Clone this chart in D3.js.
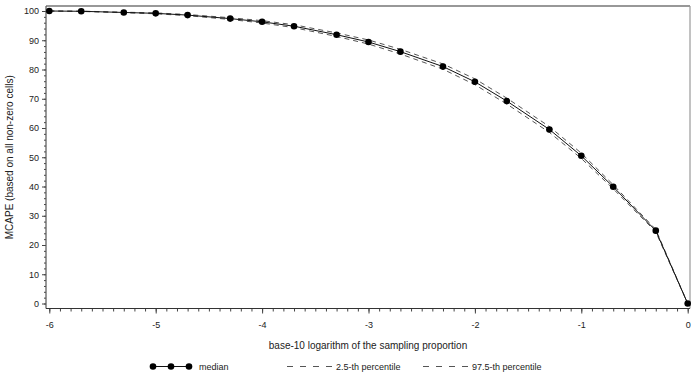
<!DOCTYPE html>
<html lang="en">
<head>
    <meta charset="UTF-8">
    <title>MCAPE vs sampling proportion</title>
    <script src="https://d3js.org/d3.v7.min.js"></script>
    <style>
        body {
            margin: 0;
            background: #fff;
            font-family: "Liberation Sans", Arial, sans-serif;
        }
        text { fill: #222; }
    </style>
</head>
<body>
    <div id="chart"></div>
    <script>
        // log10 of sampling proportion
        const logProp = [-6, -5.7, -5.3, -5, -4.7, -4.3, -4, -3.7, -3.3, -3, -2.7, -2.3, -2, -1.7, -1.3, -1, -0.7, -0.3, 0];
        const median = [100, 99.9, 99.5, 99.2, 98.6, 97.4, 96.3, 94.8, 91.9, 89.4, 86.1, 81.0, 75.8, 69.2, 59.5, 50.5, 39.9, 24.9, 0];
        const p025 = [100, 99.85, 99.4, 99.05, 98.4, 97.1, 95.9, 94.3, 91.3, 88.7, 85.3, 80.1, 74.8, 68.2, 58.5, 49.6, 39.2, 24.5, 0];
        const p975 = [100, 99.95, 99.6, 99.35, 98.8, 97.7, 96.7, 95.3, 92.5, 90.1, 86.9, 81.9, 76.8, 70.2, 60.5, 51.4, 40.6, 25.3, 0];

        const xTicks = [-6, -5, -4, -3, -2, -1, 0];
        const yTicks = [0, 10, 20, 30, 40, 50, 60, 70, 80, 90, 100];
        const legendLabels = ["median", "2.5-th percentile", "97.5-th percentile"];

        const width = 697, height = 377;
        const frame = {left: 46, right: 690, top: 6, bottom: 308.5};

        const svg = d3.select("#chart")
            .append("svg")
            .attr("width", width)
            .attr("height", height);

        const x = d3.scaleLinear().domain([-6, 0]).range([49.3, 687.7]);
        const y = d3.scaleLinear().domain([0, 100]).range([303.5, 11]);

        // frame: top and right border
        svg.append("path")
            .attr("d", `M${frame.left},${frame.top}H${frame.right}`)
            .attr("stroke", "#333").attr("stroke-width", 1.2).attr("fill", "none");
        svg.append("path")
            .attr("d", `M${frame.right},${frame.top}V${frame.bottom}`)
            .attr("stroke", "#999").attr("stroke-width", 1.2).attr("fill", "none");

        // x axis - minor ticks
        const xMinor = d3.range(-60, 1).map(d => d / 10);
        svg.append("g")
            .attr("transform", `translate(0,${frame.bottom})`)
            .call(d3.axisBottom(x).tickValues(xMinor).tickSize(3).tickFormat(""))
            .call(g => g.select(".domain").remove())
            .selectAll("line").attr("stroke", "#444");

        // x axis - major ticks
        const xAxis = svg.append("g")
            .attr("transform", `translate(0,${frame.bottom})`)
            .call(d3.axisBottom(x).tickValues(xTicks).tickSize(5).tickPadding(8).tickFormat(d => String(d)));
        xAxis.select(".domain").remove();
        xAxis.selectAll("line").attr("stroke", "#444");
        xAxis.selectAll("text")
            .attr("font-size", 9)
            .attr("font-family", "Liberation Sans, Arial, sans-serif")
            .attr("fill", "#222");

        // y axis - minor ticks
        const yMinor = d3.range(0, 101, 2);
        svg.append("g")
            .attr("transform", `translate(${frame.left},0)`)
            .call(d3.axisLeft(y).tickValues(yMinor).tickSize(2).tickFormat(""))
            .call(g => g.select(".domain").remove())
            .selectAll("line").attr("stroke", "#444");

        // y axis - major ticks
        const yAxis = svg.append("g")
            .attr("transform", `translate(${frame.left},0)`)
            .call(d3.axisLeft(y).tickValues(yTicks).tickSize(4).tickPadding(3));
        yAxis.select(".domain").remove();
        yAxis.selectAll("line").attr("stroke", "#444");
        yAxis.selectAll("text")
            .attr("font-size", 9)
            .attr("font-family", "Liberation Sans, Arial, sans-serif")
            .attr("fill", "#222");

        // axis lines
        svg.append("path")
            .attr("d", `M${frame.left},${frame.top}V${frame.bottom}`)
            .attr("stroke", "#555").attr("stroke-width", 1.2).attr("fill", "none");
        svg.append("path")
            .attr("d", `M${frame.left},${frame.bottom}H${frame.right}`)
            .attr("stroke", "#333").attr("stroke-width", 1.2).attr("fill", "none");

        // axis titles
        svg.append("text")
            .attr("x", (frame.left + frame.right) / 2)
            .attr("y", 349)
            .attr("text-anchor", "middle")
            .attr("font-size", 10)
            .text("base-10 logarithm of the sampling proportion");

        svg.append("text")
            .attr("transform", `translate(13,${(y(0) + y(100)) / 2}) rotate(-90)`)
            .attr("text-anchor", "middle")
            .attr("font-size", 10)
            .text("MCAPE (based on all non-zero cells)");

        // lines
        const line = vals => d3.line()
            .x((d, i) => x(logProp[i]))
            .y(d => y(d))(vals);

        [p025, p975].forEach(vals => {
            svg.append("path")
                .attr("d", line(vals))
                .attr("fill", "none")
                .attr("stroke", "#555")
                .attr("stroke-width", 1)
                .attr("stroke-dasharray", "5,4");
        });

        svg.append("path")
            .attr("d", line(median))
            .attr("fill", "none")
            .attr("stroke", "#111")
            .attr("stroke-width", 1);

        svg.append("g")
            .selectAll("circle")
            .data(median)
            .join("circle")
            .attr("cx", (d, i) => x(logProp[i]))
            .attr("cy", d => y(d))
            .attr("r", 3.3)
            .attr("fill", "#000");

        // legend
        const ly = 366.5;
        const leg = svg.append("g");
        leg.append("line")
            .attr("x1", 153).attr("x2", 189).attr("y1", ly).attr("y2", ly)
            .attr("stroke", "#111").attr("stroke-width", 1);
        leg.selectAll("circle")
            .data([153, 171, 189])
            .join("circle")
            .attr("cx", d => d).attr("cy", ly).attr("r", 3.3).attr("fill", "#000");
        leg.append("text")
            .attr("x", 199).attr("y", ly + 3.3)
            .attr("font-size", 9)
            .text(legendLabels[0]);

        [[287, legendLabels[1]], [423, legendLabels[2]]].forEach(([lx, label]) => {
            leg.append("line")
                .attr("x1", lx).attr("x2", lx + 45).attr("y1", ly).attr("y2", ly)
                .attr("stroke", "#555").attr("stroke-width", 1)
                .attr("stroke-dasharray", "6,7");
            leg.append("text")
                .attr("x", lx + 49).attr("y", ly + 3.3)
                .attr("font-size", 9)
                .text(label);
        });
    </script>
</body>
</html>
